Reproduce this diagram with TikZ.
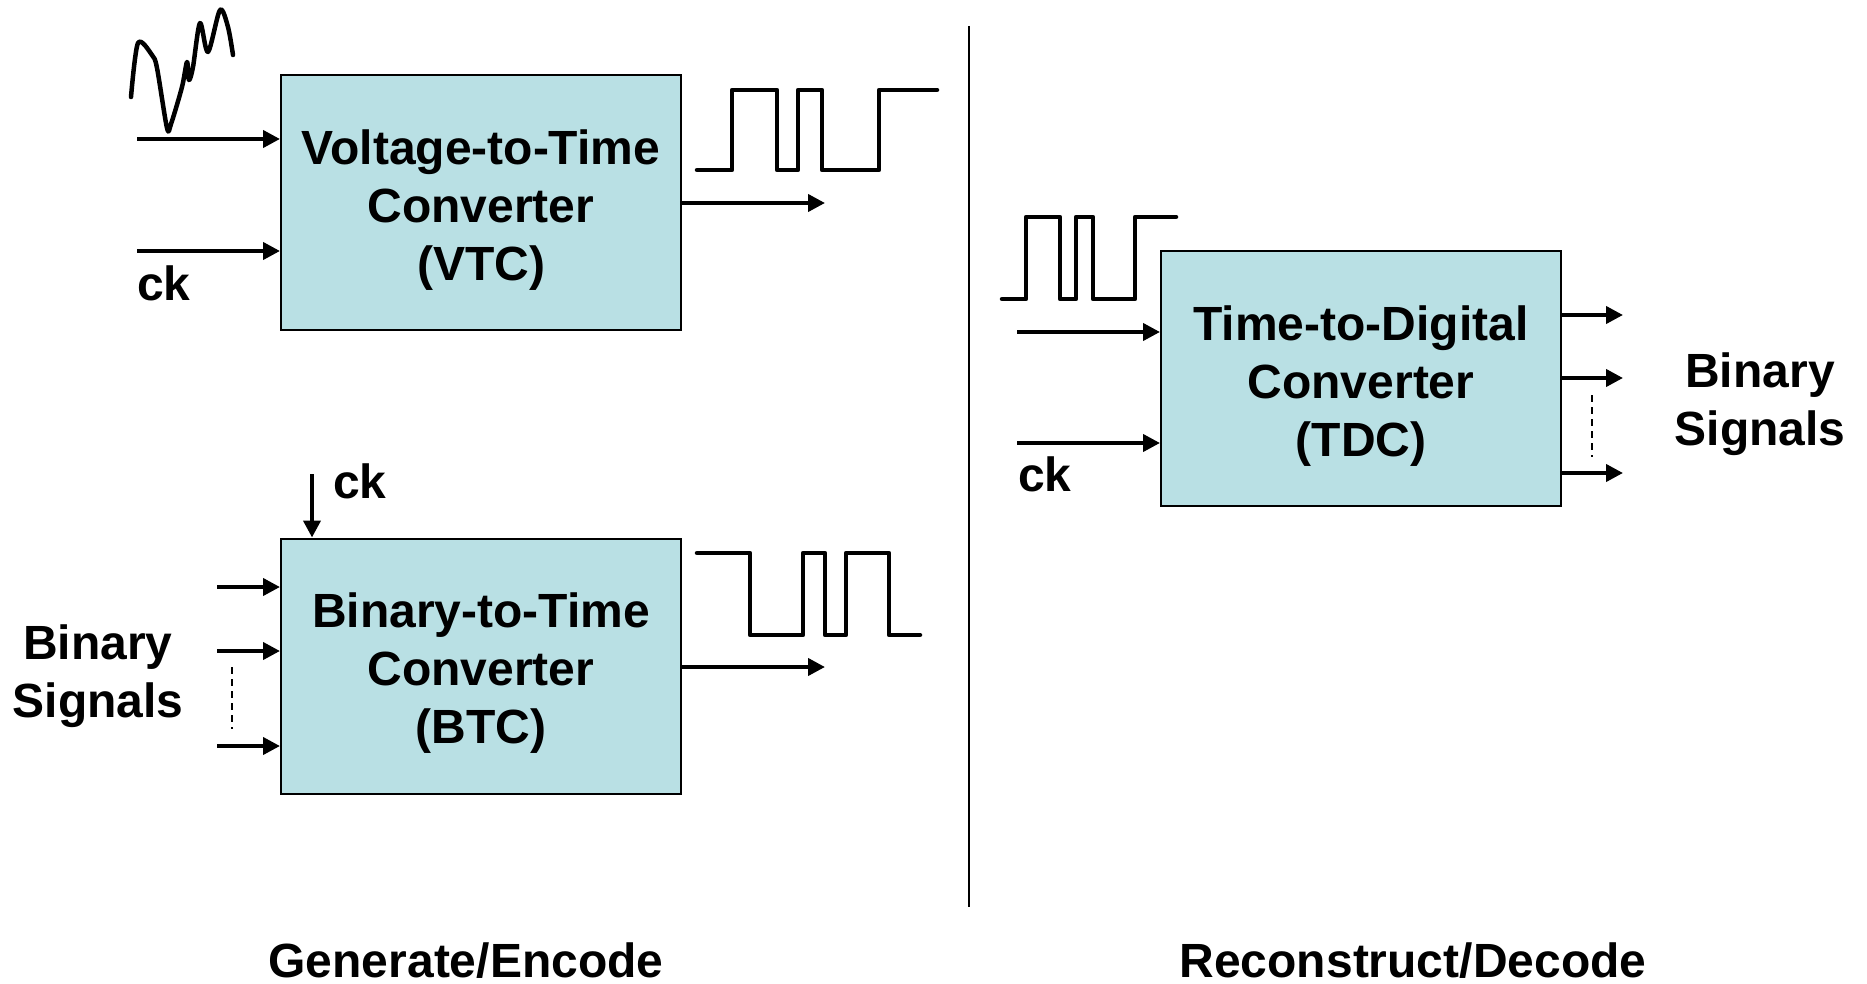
\documentclass[tikz,border=0pt]{standalone}
\usepackage{fontspec}
\setmainfont{Liberation Sans}
\usetikzlibrary{arrows.meta,positioning}
\definecolor{boxcyan}{RGB}{185,224,228}
\tikzset{
  conv/.style={draw,line width=2pt,fill=boxcyan,minimum width=400pt,minimum height=255pt,
    align=center,inner sep=0pt,font=\bfseries\fontsize{48}{58}\selectfont,
    text height=165pt,text depth=10pt},
  sig/.style={line width=4pt,-{Triangle[length=17pt,width=17pt]}},
  wave/.style={line width=4.5pt,line join=round,line cap=round},
  lbl/.style={font=\bfseries\fontsize{48}{58}\selectfont,align=center,inner sep=0pt},
  dots/.style={line width=2pt,dash pattern=on 7pt off 5pt},
}

\begin{document}
\begin{tikzpicture}[x=1pt,y=-1pt]
    \useasboundingbox (0,0) rectangle (1867,984);
    % the three converters
    \node[conv] (vtc) at (481,202.5) {Voltage-to-Time\\Converter\\(VTC)};
    \node[conv] (btc) at (481,666) {Binary-to-Time\\Converter\\(BTC)};
    \node[conv] (tdc) at (1361,378.5) {Time-to-Digital\\Converter\\(TDC)};

    % VTC inputs and output
    \coordinate (vtcin) at (137,139);
    \coordinate (vtcck) at (137,251);
    \coordinate (vtcout) at (825,203);
    \draw[sig] (vtcin) -- (vtcin -| vtc.west);
    \draw[sig] (vtcck) -- (vtcck -| vtc.west);
    \draw[sig] (vtc.east |- vtcout) -- (vtcout);
    \node[lbl,anchor=base west] (vtccklbl) at (137,300) {ck};
    \draw[wave] plot[smooth,tension=0.5] coordinates {(131,97) (138,43) (152,55) (157,68)
        (167,128) (171,124) (182,87) (187,62) (189,80) (193,67) (200,23) (208,52)
        (220,10) (228,27) (233,55)};                                  % analog input
    \draw[wave] (697,170) -- (732,170) -- (732,90) -- (777,90) -- (777,170) -- (798,170)
        -- (798,90) -- (822,90) -- (822,170) -- (879,170) -- (879,90) -- (937,90); % time signal

    % BTC inputs and output
    \coordinate (btcck) at (312,474);
    \coordinate (btcin1) at (217,587);
    \coordinate (btcin2) at (217,651);
    \coordinate (btcin3) at (217,746);
    \coordinate (btcout) at (825,667);
    \draw[sig] (btcck) -- (btcck |- btc.north);
    \node[lbl,anchor=base west] (btccklbl) at (333,498) {ck};
    \foreach \i in {1,2,3}
        \draw[sig] (btcin\i) -- (btcin\i -| btc.west);
    \draw[dots] (232,667) -- (232,729);
    \node[lbl] (btcbits) at (98,676) {Binary\\Signals};
    \draw[sig] (btc.east |- btcout) -- (btcout);
    \draw[wave] (697,553) -- (750,553) -- (750,635) -- (803,635) -- (803,553) -- (825,553)
        -- (825,635) -- (846,635) -- (846,553) -- (889,553) -- (889,635) -- (920,635); % time signal

    % TDC inputs and outputs
    \coordinate (tdcin) at (1017,332);
    \coordinate (tdcck) at (1017,443);
    \draw[sig] (tdcin) -- (tdcin -| tdc.west);
    \draw[sig] (tdcck) -- (tdcck -| tdc.west);
    \node[lbl,anchor=base west] (tdccklbl) at (1018,491) {ck};
    \draw[wave] (1002,299) -- (1026,299) -- (1026,217) -- (1060,217) -- (1060,299) -- (1076,299)
        -- (1076,217) -- (1093,217) -- (1093,299) -- (1135,299) -- (1135,217) -- (1176,217); % time signal
    \coordinate (tdcout1) at (1623,315);
    \coordinate (tdcout2) at (1623,378);
    \coordinate (tdcout3) at (1623,473);
    \foreach \i in {1,2,3}
        \draw[sig] (tdc.east |- tdcout\i) -- (tdcout\i);
    \draw[dots] (1592,395) -- (1592,457);
    \node[lbl] (tdcbits) at (1760,404) {Binary\\Signals};

    % separator and captions
    \coordinate (septop) at (969,26);
    \coordinate (sepbot) at (969,907);
    \draw[line width=2pt] (septop) -- (sepbot);
    \node[lbl,anchor=base] (enc) at (466,977) {Generate/Encode};
    \node[lbl,anchor=base] (dec) at (1413,977) {Reconstruct/Decode};
\end{tikzpicture}
\end{document}
